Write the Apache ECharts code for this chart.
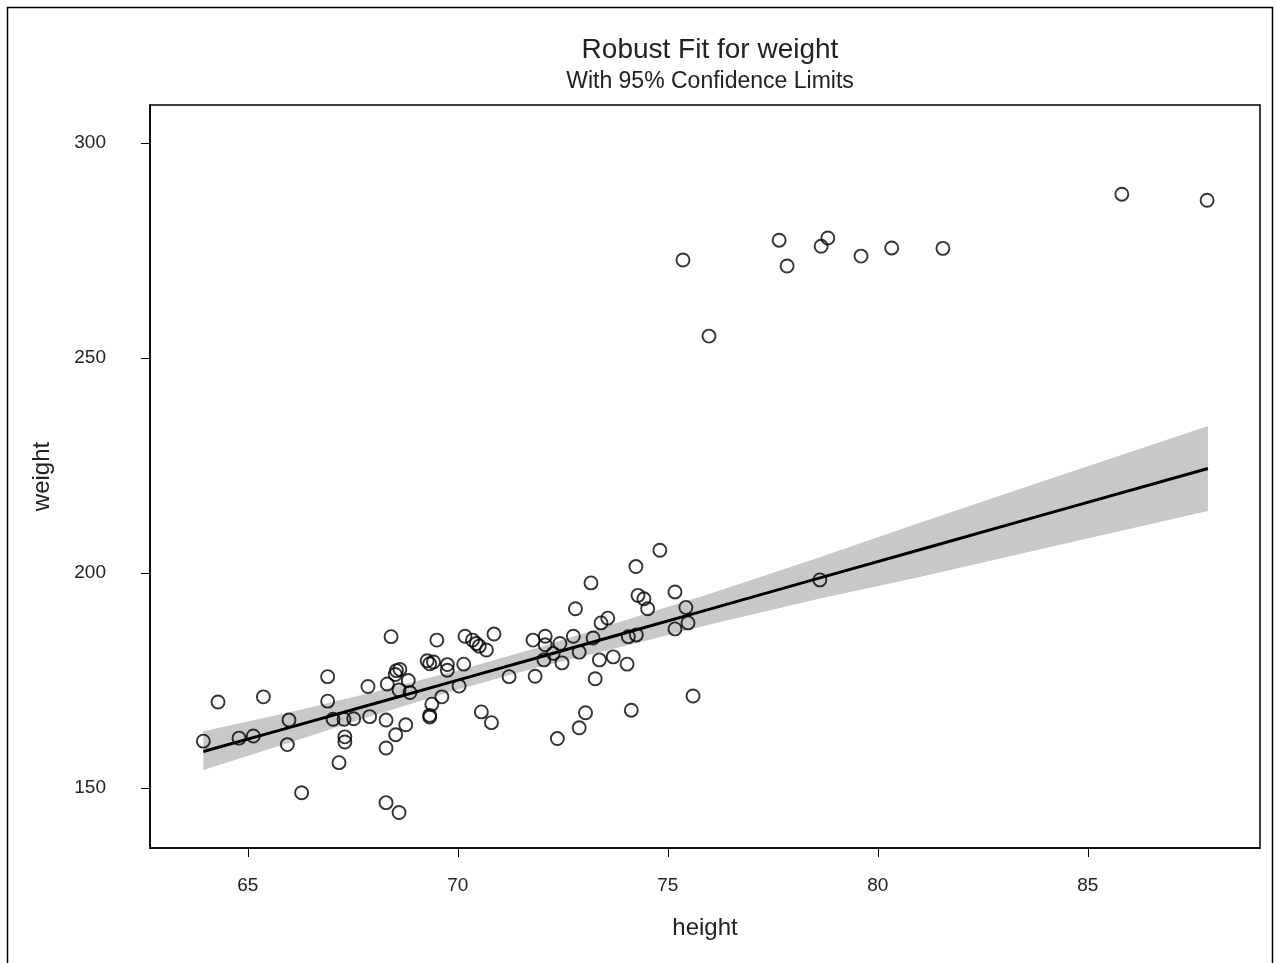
<!DOCTYPE html>
<html>
<head>
<meta charset="utf-8">
<title>Robust Fit for weight</title>
<script src="https://cdn.jsdelivr.net/npm/echarts@6/dist/echarts.min.js"></script>
<style>
  html, body { margin: 0; padding: 0; background: #fff; }
  #chart { width: 1275px; height: 963px; }
</style>
</head>
<body>
<div id="chart"></div>
<script>
// observed data (height, weight)
const heights = [
  63.94, 64.29, 64.79, 65.13, 65.37, 65.98, 65.94, 66.28, 66.90, 66.90,
  67.03, 67.29, 67.52, 67.31, 67.31, 67.17, 67.86, 67.90, 68.41, 68.32,
  68.29, 68.29, 68.29, 68.60, 68.52, 68.76, 68.54, 68.62, 68.51, 68.82,
  68.60, 68.86, 69.50, 69.27, 69.33, 69.42, 69.75, 69.75, 69.38, 69.33,
  69.33, 69.62, 70.03, 70.14, 70.17, 70.35, 70.44, 70.51, 70.68, 70.86,
  70.56, 70.80, 71.22, 71.79, 71.84, 72.08, 72.08, 72.05, 72.27, 72.43,
  72.48, 72.37, 72.75, 72.80, 72.89, 73.04, 72.89, 73.17, 73.22, 73.27,
  73.37, 73.41, 73.57, 73.70, 74.03, 74.13, 74.06, 74.25, 74.24, 74.29,
  74.43, 74.52, 74.81, 75.17, 75.17, 75.43, 75.48, 75.60, 78.62, 75.36,
  75.98, 77.65, 77.84, 78.65, 78.81, 79.60, 80.33, 81.55, 85.81, 87.84
]
const weights = [
  160.9, 170.0, 161.6, 162.1, 171.2, 165.8, 160.1, 148.9, 175.9, 170.2,
  166.0, 166.0, 166.1, 161.9, 160.7, 155.9, 173.6, 166.6, 185.2, 174.2,
  165.8, 159.3, 146.6, 144.3, 162.4, 164.7, 177.3, 177.6, 176.4, 175.0,
  172.8, 172.2, 184.4, 179.6, 178.9, 179.3, 178.7, 177.4, 169.5, 166.9,
  166.5, 171.2, 173.7, 178.8, 185.3, 184.4, 183.6, 183.0, 182.1, 185.8,
  167.7, 165.2, 175.9, 184.4, 176.0, 185.3, 183.3, 179.8, 181.3, 183.6,
  179.1, 161.5, 185.3, 191.7, 181.6, 167.5, 164.0, 197.7, 184.9, 175.4,
  179.8, 188.4, 189.5, 180.5, 178.8, 168.1, 185.2, 185.6, 201.5, 194.8,
  194.0, 191.7, 205.3, 195.6, 187.0, 192.0, 188.4, 171.4, 198.4, 272.8,
  255.1, 277.4, 271.4, 276.0, 277.9, 273.7, 275.6, 275.5, 288.1, 286.7
]

// fitted line and 95% confidence limits, read at these heights
const fitHeights = [63.94, 66, 68, 70, 72, 74, 76, 78.6, 81, 84, 87.86]
const fitWeights = [158.5, 164.1, 169.6, 175.1, 180.6, 186.1, 191.6, 198.8, 205.4, 213.7, 224.3]
const lowerCL = [154.2, 160.6, 166.9, 172.9, 178.3, 183.1, 188.0, 194.0, 199.1, 205.8, 214.4]
const upperCL = [163.2, 167.6, 172.3, 177.3, 182.9, 189.1, 195.2, 203.6, 211.7, 221.6, 234.2]

const xTicks = [65, 70, 75, 80, 85]
const yTicks = [150, 200, 250, 300]

const chart = echarts.init(document.getElementById('chart'))

const points = heights.map((h, i) => [h, weights[i]])
const fitLine = fitHeights.map((h, i) => [h, fitWeights[i]])
const band = fitHeights.map((h, i) => [h, lowerCL[i], upperCL[i]])

const textColor = '#222'
const font = 'Liberation Sans, Arial, sans-serif'

chart.setOption({
  backgroundColor: '#fff',
  animation: false,
  title: {
    text: 'Robust Fit for weight',
    subtext: 'With 95% Confidence Limits',
    left: 705,
    textAlign: 'center',
    top: 31,
    itemGap: 6,
    textStyle: { fontFamily: font, fontSize: 28, fontWeight: 'normal', color: textColor },
    subtextStyle: { fontFamily: font, fontSize: 23, color: textColor }
  },
  graphic: [{
    type: 'rect',
    shape: { x: 7.5, y: 7.5, width: 1265, height: 1000 },
    style: { fill: 'none', stroke: '#000', lineWidth: 1.5 },
    silent: true
  }],
  grid: {
    left: 150,
    top: 105,
    right: 15,
    bottom: 115,
    show: true,
    borderColor: '#000',
    borderWidth: 1.5
  },
  xAxis: {
    type: 'value',
    min: 62.67,
    max: 89.1,
    name: 'height',
    nameLocation: 'middle',
    nameGap: 68,
    nameTextStyle: { fontFamily: font, fontSize: 24, color: textColor },
    axisLine: { show: true, onZero: false, lineStyle: { color: '#000', width: 1.5 } },
    axisTick: { show: true, length: 9, customValues: xTicks, lineStyle: { color: '#000' } },
    axisLabel: { customValues: xTicks, margin: 28, fontFamily: font, fontSize: 19, color: textColor },
    splitLine: { show: false }
  },
  yAxis: {
    type: 'value',
    min: 136.05,
    max: 308.84,
    name: 'weight',
    nameLocation: 'middle',
    nameGap: 96,
    nameRotate: 90,
    nameTextStyle: { fontFamily: font, fontSize: 24, color: textColor },
    axisLine: { show: true, onZero: false, lineStyle: { color: '#000', width: 1.5 } },
    axisTick: { show: true, length: 9, customValues: yTicks, lineStyle: { color: '#000' } },
    axisLabel: { customValues: yTicks, margin: 44, fontFamily: font, fontSize: 19, color: textColor },
    splitLine: { show: false }
  },
  series: [
    {
      name: '95% CL',
      type: 'custom',
      data: band,
      z: 1,
      silent: true,
      renderItem(params, api) {
        if (params.dataIndex !== 0) return
        const upper = band.map(d => api.coord([d[0], d[2]]))
        const lower = band.slice().reverse().map(d => api.coord([d[0], d[1]]))
        return {
          type: 'polygon',
          shape: { points: upper.concat(lower) },
          style: { fill: '#c8c8c8', stroke: 'none' }
        }
      }
    },
    {
      name: 'Fit',
      type: 'line',
      data: fitLine,
      z: 2,
      symbol: 'none',
      lineStyle: { color: '#000', width: 3 }
    },
    {
      name: 'weight',
      type: 'scatter',
      data: points,
      z: 3,
      symbol: 'circle',
      symbolSize: 13,
      itemStyle: { color: 'rgba(0,0,0,0)', borderColor: '#000', borderWidth: 1.9 }
    }
  ]
})
</script>
</body>
</html>
